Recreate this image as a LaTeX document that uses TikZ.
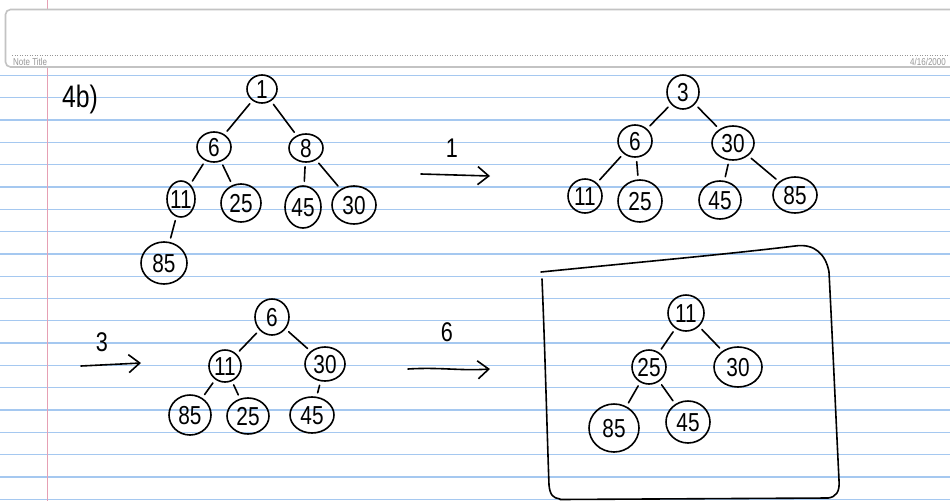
\documentclass[tikz,border=0pt]{standalone}
\usepackage{fontspec}
\setmainfont{Liberation Sans}[FakeStretch=0.8]
\usetikzlibrary{shapes.geometric,arrows.meta}
\definecolor{ruleblue}{RGB}{165,200,240}
\definecolor{marginred}{RGB}{230,160,180}
\definecolor{headgray}{RGB}{195,195,195}
\definecolor{notegray}{RGB}{150,150,150}
\newcommand{\hw}[1]{\makebox[0pt]{\smash{\raisebox{-0.36em}{#1}}}}
\begin{document}
\begin{tikzpicture}[x=1pt,y=-1pt,
  ink/.style={line width=1.6pt, line cap=round, line join=round},
  hn/.style={ink, draw, ellipse, inner sep=0pt, font=\fontsize{26}{26}\selectfont},
  sz/.style 2 args={minimum width=#1pt, minimum height=#2pt},
  edge/.style={ink, shorten >=4pt, shorten <=4pt},
  harrow/.style={ink, -{Straight Barb[length=11pt,width=18pt,line width=1.6pt]}},
  hlabel/.style={font=\fontsize{27}{27}\selectfont, inner sep=0pt},
  notetext/.style={font=\fontsize{10}{10}\selectfont, text=notegray, inner sep=1pt},
]
\clip (0,0) rectangle (950,501);
\fill[white] (0,0) rectangle (950,501);
% ruled paper
\foreach \i in {0,...,19}
  \draw[ruleblue, line width=1.3pt] (0,{75.5+22.3*\i}) -- (950,{75.5+22.3*\i});
\draw[marginred, line width=1pt] (47.5,0) -- (47.5,501);
% header
\draw[headgray, line width=1.6pt, fill=white, rounded corners=5pt] (5.5,9.5) rectangle (975,67);
\draw[notegray, dotted, line width=0.5pt] (12,55) -- (950,55);
\node[notetext, anchor=south west] (nt) at (12,66.5) {Note Title};
\node[notetext, anchor=south west, fill=white] (dt) at (909,66.5) {4/16/2000};

% label 4b)
\node[hlabel, font=\fontsize{31}{31}\selectfont] (q) at (80,99) {4b)};

% tree 1
\node[hn, sz={30}{28}] (a1) at (262,89) {\hw{1}};
\node[hn, sz={34}{30}] (a6) at (214,147) {\hw{6}};
\node[hn, sz={34}{28}] (a8) at (306,148) {\hw{8}};
\node[hn, sz={28}{36}] (a11) at (181,199) {\hw{11}};
\node[hn, sz={40}{38}] (a25) at (241,203) {\hw{25}};
\node[hn, sz={36}{42}] (a45) at (303,207) {\hw{45}};
\node[hn, sz={44}{38}] (a30) at (354,205) {\hw{30}};
\node[hn, sz={46}{42}] (a85) at (164,263) {\hw{85}};
\draw[edge] (a1) -- (a6);
\draw[edge] (a1) -- (a8);
\draw[edge] (a6) -- (a11);
\draw[edge] (a6) -- (a25);
\draw[edge] (a8) -- (a45);
\draw[edge] (a8) -- (a30);
\draw[edge] (a11) -- (a85);

% arrow 1
\coordinate (r1s) at (421,174);
\coordinate (r1e) at (490,176);
\draw[harrow] (r1s) -- (r1e);
\node[hlabel] (l1) at (452,148) {1};

% tree 2
\node[hn, sz={32}{34}] (b3) at (683,92) {\hw{3}};
\node[hn, sz={34}{32}] (b6) at (635,141) {\hw{6}};
\node[hn, sz={42}{34}] (b30) at (733,143) {\hw{30}};
\node[hn, sz={34}{34}] (b11) at (585,196) {\hw{11}};
\node[hn, sz={44}{42}] (b25) at (640,201) {\hw{25}};
\node[hn, sz={42}{38}] (b45) at (720,200) {\hw{45}};
\node[hn, sz={44}{36}] (b85) at (795,195) {\hw{85}};
\draw[edge] (b3) -- (b6);
\draw[edge] (b3) -- (b30);
\draw[edge] (b6) -- (b11);
\draw[edge] (b6) -- (b25);
\draw[edge] (b30) -- (b45);
\draw[edge] (b30) -- (b85);

% arrow 3
\coordinate (r3s) at (81,366);
\coordinate (r3e) at (141,363);
\draw[harrow] (r3s) -- (r3e);
\node[hlabel] (l3) at (102,342) {3};

% tree 3
\node[hn, sz={34}{36}] (c6) at (272,317) {\hw{6}};
\node[hn, sz={32}{32}] (c11) at (225,366) {\hw{11}};
\node[hn, sz={40}{34}] (c30) at (325,364) {\hw{30}};
\node[hn, sz={42}{40}] (c85) at (190,415) {\hw{85}};
\node[hn, sz={42}{36}] (c25) at (248,416) {\hw{25}};
\node[hn, sz={44}{36}] (c45) at (312,415) {\hw{45}};
\draw[edge] (c6) -- (c11);
\draw[edge] (c6) -- (c30);
\draw[edge] (c11) -- (c85);
\draw[edge] (c11) -- (c25);
\draw[edge] (c30) -- (c45);

% arrow 6
\coordinate (r6s) at (408,369);
\coordinate (r6e) at (490,369);
\draw[harrow] (r6s) .. controls (440,367) and (460,371) .. (r6e);
\node[hlabel] (l6) at (447,332) {6};

% final box
\draw[ink] (541,272) .. controls (640,262) and (720,255) .. (795,246)
  .. controls (815,243) and (826,255) .. (829,272)
  .. controls (833,350) and (836,420) .. (839,480)
  .. controls (840,492) and (836,497) .. (828,498);
\draw[ink] (542,279) .. controls (545,350) and (547,430) .. (549,485)
  .. controls (550,495) and (553,498) .. (560,499);
\draw[ink] (560,499.5) -- (828,498);

% tree 4
\node[hn, sz={36}{36}] (d11) at (686,313) {\hw{11}};
\node[hn, sz={34}{34}] (d25) at (649,367) {\hw{25}};
\node[hn, sz={48}{40}] (d30) at (738,367) {\hw{30}};
\node[hn, sz={50}{48}] (d85) at (614,428) {\hw{85}};
\node[hn, sz={44}{42}] (d45) at (688,422) {\hw{45}};
\draw[edge] (d11) -- (d25);
\draw[edge] (d11) -- (d30);
\draw[edge] (d25) -- (d85);
\draw[edge] (d25) -- (d45);
\end{tikzpicture}
\end{document}
